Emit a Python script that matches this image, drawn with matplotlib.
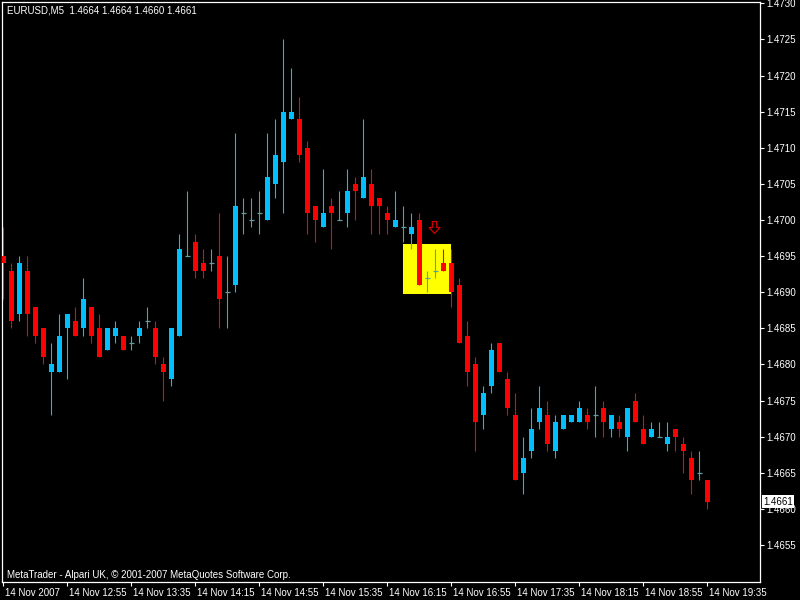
import matplotlib
matplotlib.use("Agg")
import matplotlib.pyplot as plt
from matplotlib.path import Path
from matplotlib.patches import Rectangle
from matplotlib.transforms import ScaledTranslation, blended_transform_factory

# ---------------- data (EURUSD, M5, 14 Nov 2007, 12:15 .. 19:35) ----------------
opens = [1.4695, 1.4693, 1.4687, 1.4693, 1.4688, 1.4685, 1.4679, 1.4679, 1.4685, 1.4686,
         1.4685, 1.4688, 1.4685, 1.4682, 1.4684, 1.4684, 1.4683, 1.4684, 1.4686, 1.4685,
         1.4680, 1.4678, 1.4684, 1.4695, 1.4697, 1.4694, 1.4694, 1.4695, 1.4690, 1.4691,
         1.4701, 1.4700, 1.4701, 1.4700, 1.4705, 1.4708, 1.4714, 1.4714, 1.4710, 1.4702,
         1.4699, 1.4702, 1.4700, 1.4701, 1.4705, 1.4703, 1.4705, 1.4703, 1.4701, 1.4699,
         1.4699, 1.4698, 1.4700, 1.4692, 1.4693, 1.4694, 1.4694, 1.4691, 1.4684, 1.4680,
         1.4673, 1.4677, 1.4683, 1.4678, 1.4673, 1.4665, 1.4668, 1.4672, 1.4673, 1.4668,
         1.4671, 1.4672, 1.4672, 1.4673, 1.4673, 1.4674, 1.4671, 1.4672, 1.4670, 1.4675,
         1.4671, 1.4670, 1.4670, 1.4669, 1.4671, 1.4669, 1.4667, 1.4665, 1.4664]
highs = [1.4699, 1.4694, 1.4695, 1.4695, 1.4688, 1.4685, 1.4683, 1.4687, 1.4687, 1.4688,
         1.4692, 1.4688, 1.4687, 1.4685, 1.4686, 1.4684, 1.4684, 1.4686, 1.4688, 1.4686,
         1.4681, 1.4685, 1.4698, 1.4704, 1.4698, 1.4696, 1.4696, 1.4701, 1.4695, 1.4712,
         1.4703, 1.4703, 1.4704, 1.4712, 1.4714, 1.4725, 1.4721, 1.4717, 1.4711, 1.4702,
         1.4707, 1.4703, 1.4704, 1.4707, 1.4706, 1.4714, 1.4707, 1.4703, 1.4702, 1.4704,
         1.4702, 1.4701, 1.4701, 1.4693, 1.4696, 1.4696, 1.4696, 1.4692, 1.4686, 1.4681,
         1.4677, 1.4683, 1.4683, 1.4679, 1.4676, 1.4670, 1.4674, 1.4677, 1.4675, 1.4673,
         1.4673, 1.4673, 1.4675, 1.4674, 1.4677, 1.4675, 1.4673, 1.4673, 1.4674, 1.4676,
         1.4673, 1.4672, 1.4672, 1.4672, 1.4671, 1.4670, 1.4668, 1.4668, 1.4664]
lows = [1.4689, 1.4685, 1.4686, 1.4684, 1.4683, 1.4680, 1.4673, 1.4679, 1.4678, 1.4684,
        1.4684, 1.4683, 1.4681, 1.4682, 1.4683, 1.4682, 1.4682, 1.4683, 1.4685, 1.4680,
        1.4675, 1.4677, 1.4684, 1.4695, 1.4692, 1.4692, 1.4693, 1.4685, 1.4685, 1.4690,
        1.4698, 1.4699, 1.4698, 1.4700, 1.4703, 1.4701, 1.4714, 1.4708, 1.4698, 1.4697,
        1.4699, 1.4696, 1.4700, 1.4699, 1.4700, 1.4703, 1.4698, 1.4698, 1.4698, 1.4699,
        1.4697, 1.4696, 1.4691, 1.4690, 1.4692, 1.4693, 1.4688, 1.4683, 1.4677, 1.4668,
        1.4671, 1.4676, 1.4679, 1.4673, 1.4664, 1.4662, 1.4667, 1.4671, 1.4668, 1.4667,
        1.4671, 1.4672, 1.4672, 1.4671, 1.4670, 1.4670, 1.4670, 1.4670, 1.4668, 1.4672,
        1.4669, 1.4670, 1.4670, 1.4668, 1.4668, 1.4665, 1.4662, 1.4664, 1.4660]
closes = [1.4694, 1.4686, 1.4694, 1.4687, 1.4684, 1.4681, 1.4680, 1.4684, 1.4687, 1.4684,
          1.4689, 1.4684, 1.4681, 1.4685, 1.4685, 1.4682, 1.4683, 1.4685, 1.4686, 1.4681,
          1.4679, 1.4685, 1.4696, 1.4695, 1.4693, 1.4693, 1.4694, 1.4689, 1.4690, 1.4702,
          1.4701, 1.4700, 1.4701, 1.4706, 1.4709, 1.4715, 1.4715, 1.4709, 1.4701, 1.4700,
          1.4701, 1.4701, 1.4700, 1.4704, 1.4704, 1.4706, 1.4702, 1.4702, 1.4700, 1.4700,
          1.4699, 1.4699, 1.4691, 1.4692, 1.4693, 1.4693, 1.4690, 1.4683, 1.4679, 1.4672,
          1.4676, 1.4682, 1.4679, 1.4674, 1.4664, 1.4667, 1.4671, 1.4674, 1.4669, 1.4672,
          1.4673, 1.4673, 1.4674, 1.4672, 1.4673, 1.4672, 1.4673, 1.4671, 1.4674, 1.4672,
          1.4669, 1.4671, 1.4670, 1.4670, 1.4670, 1.4668, 1.4664, 1.4665, 1.4661]

time_labels = ["14 Nov 2007", "14 Nov 12:55", "14 Nov 13:35", "14 Nov 14:15",
               "14 Nov 14:55", "14 Nov 15:35", "14 Nov 16:15", "14 Nov 16:55",
               "14 Nov 17:35", "14 Nov 18:15", "14 Nov 18:55", "14 Nov 19:35"]
label_every = 8
price_ticks = [1.4655, 1.4660, 1.4665, 1.4670, 1.4675, 1.4680, 1.4685, 1.4690,
               1.4695, 1.4700, 1.4705, 1.4710, 1.4715, 1.4720, 1.4725, 1.4730]
price_tick_labels = ["%.4f" % p for p in price_ticks]

symbol = "EURUSD,M5"
rect_bars = (50, 56)
rect_prices = (1.46897, 1.46967)
signal_bar = 54
signal_price = 1.4699
footer = "MetaTrader - Alpari UK, \u00a9 2001-2007 MetaQuotes Software Corp."

# ---------------- style ----------------
BULL = "#00BFFF"
BEAR = "#FF0000"
DOJI = "#5F9EA0"
FONT = "Liberation Sans"
FS = 7

fig = plt.figure(figsize=(8, 6), dpi=100, facecolor="black")
ax = fig.add_axes([2 / 800, 18 / 600, 758 / 800, 580 / 600])
ax.set_facecolor("black")

n = len(opens)
xs = list(range(n))

# rectangle object (background)
ax.add_patch(Rectangle((rect_bars[0], rect_prices[0]), rect_bars[1] - rect_bars[0],
                       rect_prices[1] - rect_prices[0], facecolor="#FFFF00",
                       edgecolor="none", zorder=1))

body_w = 0.62
for i in xs:
    o, h, l, c = opens[i], highs[i], lows[i], closes[i]
    if abs(c - o) < 1e-9:
        col = DOJI
    elif c > o:
        col = BULL
    else:
        col = BEAR
    ax.vlines(i, l, h, color=col, linewidth=0.8, zorder=2)
    if col == DOJI:
        ax.hlines(o, i - body_w / 2, i + body_w / 2, color=col, linewidth=0.9, zorder=3)
    else:
        ax.bar(i, abs(c - o), bottom=min(o, c), width=body_w, color=col,
               linewidth=0, zorder=3)

# signal arrow (hollow down arrow)
arrow = Path([(-0.2, 0.55), (0.2, 0.55), (0.2, 0.0), (0.5, 0.0), (0.0, -0.55),
              (-0.5, 0.0), (-0.2, 0.0), (-0.2, 0.55)], closed=True)
ax.plot([signal_bar - 0.12], [signal_price], marker=arrow, markersize=8.6,
        markerfacecolor="none", markeredgecolor="#D00000", markeredgewidth=0.9,
        linestyle="none", zorder=4)

ax.set_xlim(-0.1625, 94.59)
ax.set_ylim(1.464988, 1.473018)

for s in ax.spines.values():
    s.set_color("white")
    s.set_linewidth(0.9)

ax.yaxis.tick_right()
ax.set_yticks(price_ticks)
ax.set_yticklabels(price_tick_labels)
ax.tick_params(axis="y", colors="white", length=3, width=0.8, pad=1.5,
               labelsize=FS)
ax.set_xticks(xs[::label_every])
ax.set_xticklabels(time_labels)
ax.tick_params(axis="x", colors="white", length=3, width=0.8, pad=1.0,
               labelsize=FS)
off = ScaledTranslation(1.5 / 100, 0, fig.dpi_scale_trans)
for lab in ax.get_xticklabels():
    lab.set_horizontalalignment("left")
    lab.set_transform(lab.get_transform() + off)
    lab.set_family(FONT)
for lab in ax.get_yticklabels():
    lab.set_family(FONT)

# header and footer
header = "%s  %.4f %.4f %.4f %.4f" % (symbol, opens[-1], highs[-1], lows[-1], closes[-1])
fig.text(7 / 800, 1 - 10.5 / 600, header, color="white", fontsize=FS, family=FONT,
         va="center", ha="left")
fig.text(7 / 800, 1 - 574.5 / 600, footer, color="white", fontsize=FS, family=FONT,
         va="center", ha="left")

# current price box
tr = blended_transform_factory(ax.transAxes, ax.transData)
ax.text(1.0 + 3 / 758, closes[-1], "%.4f" % closes[-1], transform=tr, color="black",
        fontsize=FS, family=FONT, va="center", ha="left", clip_on=False, zorder=10,
        bbox=dict(boxstyle="square,pad=0.15", facecolor="white", edgecolor="none"))

fig.savefig("out.png", dpi=100, facecolor="black")
